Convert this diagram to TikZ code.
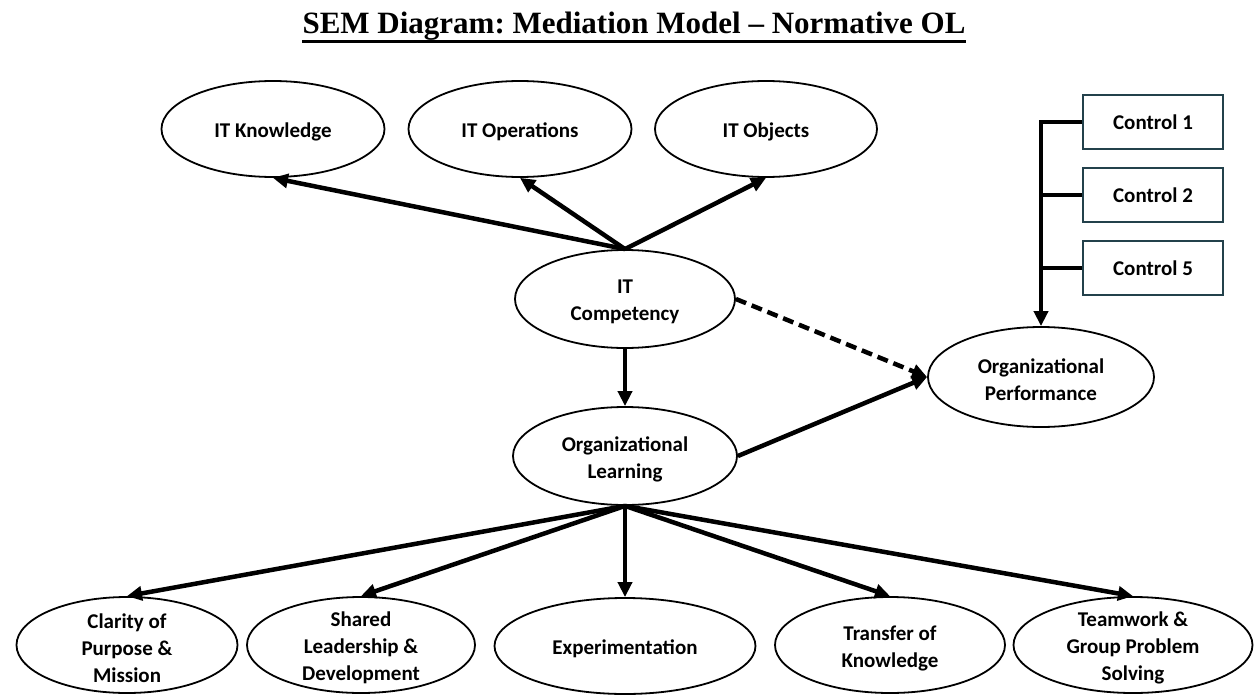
\documentclass[tikz,border=0pt]{standalone}
\usepackage{fontspec}
\setmainfont{Carlito}
\newfontfamily\titlefont{Liberation Serif}
\usetikzlibrary{shapes.geometric,arrows.meta}
\definecolor{boxedge}{RGB}{35,65,75}
\frenchspacing

\begin{document}
\begin{tikzpicture}[x=1pt,y=-1pt,
  oval/.style={ellipse,draw,line width=1.8pt,inner sep=0pt},
  lbl/.style={font=\bfseries\fontsize{21}{27}\selectfont,align=center,inner sep=0pt,yshift=-3pt},
  ctrlbox/.style={draw=boxedge,line width=2pt,minimum width=140pt,minimum height=54pt,
    inner sep=0pt,font=\bfseries\fontsize{21}{27}\selectfont},
  conn/.style={line width=4.5pt,-{Triangle[length=15pt,width=14pt]}},
  vconn/.style={line width=4pt,-{Triangle[length=15pt,width=14pt]}},
  dashconn/.style={conn,dash pattern=on 11pt off 6pt},
  bus/.style={line width=4pt}
]
% canvas
\fill[white] (0,0) rectangle (1256,696);
\path[use as bounding box] (0,0) rectangle (1256,696);

% title
\node[font=\titlefont\bfseries\fontsize{31}{36}\selectfont,inner sep=0pt,anchor=base]
  (title) at (634,34) {SEM Diagram: Mediation Model – Normative OL};
\draw[line width=3pt] ([yshift=-7pt]title.base west) -- ([yshift=-7pt]title.base east);

% IT competency indicators
\node[oval,minimum width=223pt,minimum height=96pt] (itk) at (273,129) {};
\node[lbl] (itk-t) at (itk) {IT Knowledge};
\node[oval,minimum width=223pt,minimum height=96pt] (itop) at (520,129) {};
\node[lbl] (itop-t) at (itop) {IT Operations};
\node[oval,minimum width=222pt,minimum height=96pt] (itobj) at (766,129) {};
\node[lbl] (itobj-t) at (itobj) {IT Objects};

% core constructs
\node[oval,minimum width=220pt,minimum height=98pt] (itc) at (625,299) {};
\node[lbl] (itc-t) at (itc) {IT\\Competency};
\node[oval,minimum width=224pt,minimum height=98pt] (ol) at (625,456) {};
\node[lbl] (ol-t) at (ol) {Organizational\\Learning};
\node[oval,minimum width=226pt,minimum height=100pt] (op) at (1041,377) {};
\node[lbl] (op-t) at (op) {Organizational\\Performance};

% controls
\node[ctrlbox] (c1) at (1153,122) {Control 1};
\node[ctrlbox] (c2) at (1153,195) {Control 2};
\node[ctrlbox] (c5) at (1153,268) {Control 5};

% organizational learning dimensions
\node[oval,minimum width=221pt,minimum height=96pt] (cl) at (127,645) {};
\node[lbl] (cl-t) at (cl) {Clarity of\\Purpose \&\\Mission};
\node[oval,minimum width=228pt,minimum height=96pt] (sh) at (361,645) {};
\node[lbl] (sh-t) at (sh) {Shared\\Leadership \&\\Development};
\node[oval,minimum width=261pt,minimum height=96pt] (ex) at (625,646) {};
\node[lbl] (ex-t) at (ex) {Experimentation};
\node[oval,minimum width=230pt,minimum height=96pt] (tr) at (890,645) {};
\node[lbl] (tr-t) at (tr) {Transfer of\\Knowledge};
\node[oval,minimum width=239pt,minimum height=96pt] (tw) at (1133,645) {};
\node[lbl] (tw-t) at (tw) {Teamwork \&\\Group Problem\\Solving};

% measurement paths of IT competency
\draw[conn] (itc.north) -- (itk.south);
\draw[conn] (itc.north) -- (itop.south);
\draw[conn] (itc.north) -- (itobj.south);

% structural paths
\draw[vconn] (itc.south) -- (ol.north);
\draw[dashconn] (itc.east) -- (op.west);
\draw[conn] (ol.east) -- (op.west);

% control variables
\draw[bus,-{Triangle[length=15pt,width=14pt]}] (c1.west) -| (op.north);
\draw[bus] (c2.west) -- (c2.west -| op.north);
\draw[bus] (c5.west) -- (c5.west -| op.north);

% measurement paths of organizational learning
\draw[conn] (ol.south) -- (cl.north);
\draw[conn] (ol.south) -- (sh.north);
\draw[vconn] (ol.south) -- (ex.north);
\draw[conn] (ol.south) -- (tr.north);
\draw[conn] (ol.south) -- (tw.north);
\end{tikzpicture}
\end{document}
